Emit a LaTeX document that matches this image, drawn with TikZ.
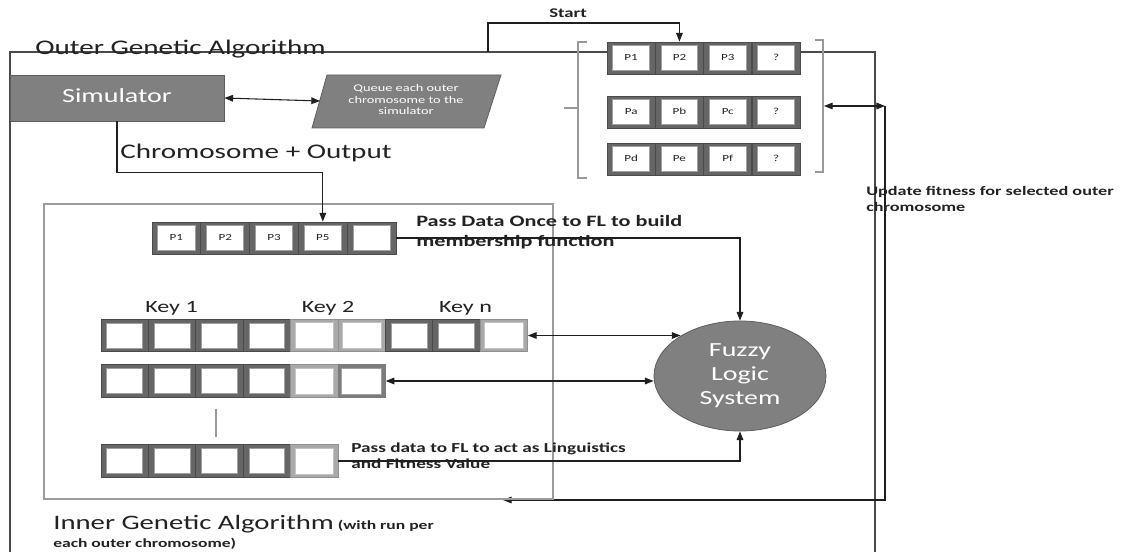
\documentclass[tikz,border=0pt]{standalone}
\usepackage{fontspec}
\setmainfont{Carlito}
\usepackage{graphicx}
\usetikzlibrary{shapes.geometric,arrows.meta,calc}
\definecolor{cdark}{HTML}{666666}
\definecolor{cdarkedge}{HTML}{4A4A4A}
\definecolor{clight}{HTML}{A9A9A9}
\definecolor{cmid}{HTML}{7C7C7C}
\definecolor{cinl}{HTML}{A0A0A0}
\definecolor{cbox}{HTML}{808080}
\definecolor{cboxedge}{HTML}{5E5E5E}
\definecolor{cinner}{HTML}{9C9C9C}
\definecolor{couter}{HTML}{4A4A4A}
\definecolor{ctxt}{HTML}{222222}
\newcommand\stx[2][l]{\scalebox{1.4}[1]{\begin{tabular}{@{}#1@{}}#2\end{tabular}}}
\tikzset{
  conn/.style={draw=black!88, line width=0.8pt},
  txt/.style={inner sep=0pt, text=ctxt},
  bigtxt/.style={txt, font=\fontsize{15.6}{18}\selectfont},
  keytxt/.style={txt, font=\fontsize{12.9}{15}\selectfont},
  cellbase/.style={rectangle, inner sep=0pt, minimum height=24pt, text=ctxt,
    font=\fontsize{7}{8}\selectfont},
  cellD/.style={cellbase, fill=cdark, draw=cdarkedge, line width=0.6pt,
    path picture={\fill[white, draw=cinl, line width=0.6pt]
      ([xshift=4.3pt,yshift=2.9pt]path picture bounding box.south west) rectangle
      ([xshift=-4.3pt,yshift=-2.9pt]path picture bounding box.north east);}},
  cellL/.style={cellbase, fill=clight, draw=clight!85!black, line width=0.5pt,
    path picture={\fill[white, draw=clight!70, line width=0.5pt]
      ([xshift=3.4pt,yshift=2.5pt]path picture bounding box.south west) rectangle
      ([xshift=-3.4pt,yshift=-2.5pt]path picture bounding box.north east);}},
  cellM/.style={cellbase, fill=cmid, draw=cmid, line width=0.5pt,
    path picture={\fill[white, draw=cinl, line width=0.5pt]
      ([xshift=2.8pt,yshift=2.4pt]path picture bounding box.south west) rectangle
      ([xshift=-2.8pt,yshift=-2.4pt]path picture bounding box.north east);}},
  cellstyle/.style={cell#1},
  ow/.style={minimum width=36.2pt},
  iw/.style={minimum width=36.6pt},
  kw/.style={minimum width=35.55pt, minimum height=24.5pt},
  bracket/.style={draw=black!40, line width=1.3pt},
}
\begin{document}
\begin{tikzpicture}[x=0.75pt,y=-0.75pt, >={Triangle[length=6.5pt,width=5pt]}]
\fill[white] (0,0) rectangle (1133,552);
\useasboundingbox (0,0) rectangle (1133,552);

% outer genetic algorithm frame
\draw[draw=couter, line width=0.8pt] (10,552) -- (10,52) -- (875,52) -- (875,552);
\node[bigtxt, anchor=west] (outerlbl) at (35,50) {\stx{Outer Genetic Algorithm}};

% simulator and queue
\node[rectangle, fill=cbox, draw=cboxedge, line width=0.6pt, minimum width=160.5pt,
  minimum height=34.5pt, inner sep=0pt, text=white, font=\fontsize{15}{18}\selectfont]
  (sim) at (117,98) {\stx{Simulator}};
\filldraw[fill=cbox, draw=cboxedge, line width=0.6pt]
  (312,128) -- (327,75) -- (501,75) -- (484,128) -- cycle;
\node[inner sep=0pt, text=white, font=\fontsize{7.7}{8.6}\selectfont]
  (queue) at (406,101) {\stx[c]{Queue each outer\\chromosome to the\\simulator}};
\coordinate (qin) at (320,101);
\draw[conn,<->] (sim.east) -- (qin);

\node[bigtxt, anchor=west] (chrlbl) at (120,154) {\stx{Chromosome + Output}};

% start
\node[txt, font=\fontsize{10}{12}\selectfont\bfseries] (startlbl) at (568,14) {\stx{Start}};
\coordinate (s0) at (488,52);

% outer chromosomes
\foreach \t [count=\i] in {P1,P2,P3,?}
  \node[cellD,ow] (o1\i) at ({607+48.3*(\i-0.5)},58) {\stx{\t}};
\foreach \t [count=\i] in {Pa,Pb,Pc,?}
  \node[cellD,ow] (o2\i) at ({607+48.3*(\i-0.5)},112) {\stx{\t}};
\foreach \t [count=\i] in {Pd,Pe,Pf,?}
  \node[cellD,ow] (o3\i) at ({607+48.3*(\i-0.5)},159) {\stx{\t}};
\draw[conn,->] (s0) -- ++(0,-29) -| (o12.north);

% brackets
\draw[bracket] (587,42) -- (578,42) -- (578,178) -- (587,178);
\draw[bracket] (564,108) -- (578,108);
\draw[bracket] (815,40) -- (823,40) -- (823,172) -- (815,172);
\coordinate (rb) at (824,106);

% update loop
\coordinate (ucorner) at (885,106);
\coordinate (ubot) at (885,500);
\coordinate (iin) at (503,500);
\draw[conn,<->] (rb) -- (ucorner);
\draw[conn,->] (ucorner) -- (ubot) -- (iin);
\node[txt, anchor=west, font=\fontsize{9.75}{12}\selectfont\bfseries] (updlbl) at (866,200)
  {\stx{Update fitness for selected outer\\chromosome}};

% inner genetic algorithm frame
\draw[draw=cinner, line width=0.9pt] (44,204) rectangle (553,499);

\foreach \t [count=\i] in {P1,P2,P3,P5,{}}
  \node[cellD,iw] (t\i) at ({152+48.8*(\i-0.5)},238) {\stx{\t}};
\draw[conn,->] (sim.south) -- ++(0,51) -| (t4.north);

\node[txt, anchor=west, font=\fontsize{11.9}{15}\selectfont\bfseries] (passonce) at (416,233)
  {\stx{Pass Data Once to FL to build\\membership function}};

% keys
\node[keytxt] (k1) at (171.5,309) {\stx{Key 1}};
\node[keytxt] (k2) at (328,309) {\stx{Key 2}};
\node[keytxt] (kn) at (465.5,309) {\stx{Key n}};

\foreach \ty [count=\i] in {D,D,D,D,L,L,D,D,L}
  \node[cellstyle=\ty,kw] (a\i) at ({101+47.4*(\i-0.5)},335.5) {};
\foreach \ty [count=\i] in {D,D,D,D,L,M}
  \node[cellstyle=\ty,kw] (b\i) at ({101+47.4*(\i-0.5)},381) {};
\foreach \ty [count=\i] in {D,D,D,D,L}
  \node[cellstyle=\ty,kw] (c\i) at ({101+47.4*(\i-0.5)},461) {};

\draw[draw=black!40, line width=1.2pt] (216,409) -- (216,437);

% fuzzy logic system
\node[ellipse, fill=cbox, draw=cboxedge, line width=0.6pt, minimum width=129pt,
  minimum height=82.5pt, inner sep=0pt, text=white, font=\fontsize{15}{18}\selectfont]
  (fls) at (740,376) {\stx[c]{Fuzzy\\Logic\\System}};
\draw[conn,->] (t5.east) -| (fls.north);
\draw[conn,<->] (a9.east) -- (a9.east -| fls.146);
\draw[conn,<->] (b6.east) -- (b6.east -| fls.west);
\draw[conn,->] (c5.east) -| (fls.south);

\node[txt, anchor=west, font=\fontsize{10.3}{12}\selectfont\bfseries] (passfl) at (351,457)
  {\stx{Pass data to FL to act as Linguistics\\and Fitness Value}};

% inner label
\node[txt, anchor=base west] (innerlbl) at (53,530)
  {\scalebox{1.4}[1]{\fontsize{15.4}{18}\selectfont Inner Genetic Algorithm{\fontsize{9.4}{11}\selectfont\bfseries\ (with run per}}};
\node[txt, anchor=base west] (innerlbl2) at (53,547)
  {\scalebox{1.4}[1]{\fontsize{9.4}{11}\selectfont\bfseries each outer chromosome)}};
\end{tikzpicture}
\end{document}
